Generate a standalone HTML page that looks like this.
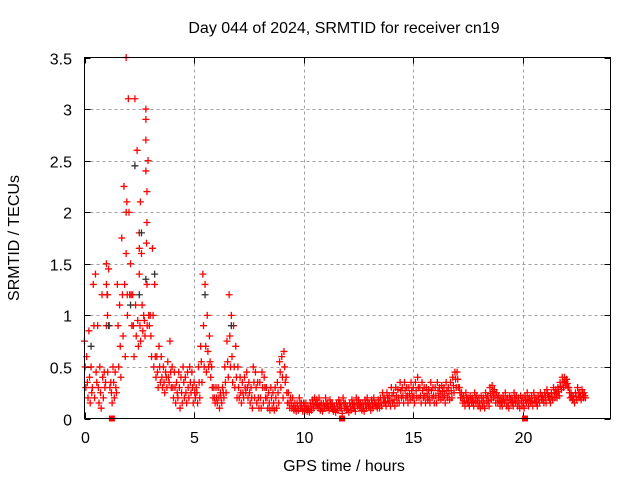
<!DOCTYPE html>
<html><head><meta charset="utf-8"><style>
body{margin:0;background:#fff}
svg text{font-family:"Liberation Sans",sans-serif;font-size:16px;fill:#000}
</style></head><body>
<svg id="c" width="640" height="480" viewBox="0 0 640 480" xmlns="http://www.w3.org/2000/svg">
<rect width="640" height="480" fill="#fff"/>
<text x="344" y="33" text-anchor="middle">Day 044 of 2024, SRMTID for receiver cn19</text>
<text x="344" y="471" text-anchor="middle">GPS time / hours</text>
<text transform="translate(19,238) rotate(-90)" text-anchor="middle">SRMTID / TECUs</text>
<g id="grid"></g><g id="ticks"></g><g id="marks"></g>
<rect x="84.5" y="57.5" width="526" height="361" fill="none" stroke="#000" stroke-width="1"/>
</svg>
<script>
const xTicks=[0,5,10,15,20];
const yTicks=[0,0.5,1,1.5,2,2.5,3,3.5];
const yTickLabels=["0","0.5","1","1.5","2","2.5","3","3.5"];
const tStart=0, tStep=0.1;
const upperVals=[0.75,0.6,0.85,0.5,1.3,1.4,0.9,0.5,1.2,0.45,
1.5,1.45,0.35,0.5,0.45,1.3,1.1,1.75,2.25,3.5,
3.1,1.5,1.2,3.1,2.6,1.65,1.6,1.0,3.0,2.5,
1.0,1.65,1.3,0.6,0.7,0.6,0.5,0.45,0.55,0.75,
0.5,0.45,0.35,0.45,0.4,0.5,0.4,0.45,0.5,0.45,
0.35,0.3,0.5,0.7,1.4,1.3,1.0,0.8,0.5,0.3,
0.3,0.3,0.25,0.3,0.5,0.75,1.2,1.0,0.9,0.7,
0.5,0.4,0.35,0.4,0.45,0.35,0.3,0.5,0.45,0.35,
0.35,0.45,0.4,0.3,0.25,0.3,0.25,0.3,0.35,0.55,
0.6,0.65,0.4,0.25,0.2,0.2,0.15,0.15,0.2,0.15,
0.15,0.15,0.12,0.15,0.18,0.2,0.18,0.2,0.15,0.15,
0.2,0.15,0.18,0.15,0.12,0.15,0.18,0.15,0.2,0.15,
0.12,0.15,0.18,0.15,0.2,0.18,0.15,0.15,0.18,0.2,
0.15,0.18,0.2,0.15,0.18,0.2,0.25,0.2,0.25,0.22,
0.3,0.25,0.3,0.28,0.35,0.3,0.35,0.3,0.3,0.35,
0.3,0.35,0.4,0.3,0.35,0.3,0.3,0.28,0.35,0.3,
0.3,0.35,0.3,0.32,0.3,0.35,0.3,0.35,0.4,0.45,
0.45,0.3,0.25,0.22,0.25,0.2,0.22,0.2,0.25,0.22,
0.2,0.22,0.2,0.25,0.22,0.3,0.32,0.28,0.25,0.22,
0.2,0.22,0.25,0.2,0.22,0.2,0.25,0.22,0.2,0.22,
0.2,0.22,0.25,0.2,0.22,0.25,0.2,0.22,0.25,0.22,
0.25,0.28,0.22,0.25,0.3,0.28,0.3,0.35,0.4,0.4,
0.38,0.3,0.25,0.22,0.25,0.3,0.25,0.28,0.25];
const midVals=[0.5,0.35,0.4,0.25,0.9,0.45,0.3,0.25,0.4,0.3,
1.2,0.9,0.25,0.35,0.3,0.9,0.7,1.2,1.3,2.1,
2.0,1.2,0.9,1.1,0.95,0.9,1.1,0.95,1.7,1.0,
0.8,1.0,0.6,0.45,0.5,0.4,0.35,0.4,0.4,0.45,
0.3,0.3,0.25,0.3,0.25,0.35,0.25,0.3,0.35,0.3,
0.25,0.25,0.35,0.55,0.9,0.7,0.65,0.55,0.3,0.2,
0.2,0.2,0.2,0.25,0.35,0.55,0.8,0.6,0.5,0.4,
0.3,0.25,0.25,0.3,0.3,0.25,0.2,0.35,0.3,0.2,
0.2,0.3,0.3,0.2,0.15,0.2,0.15,0.2,0.25,0.45,
0.4,0.5,0.25,0.15,0.15,0.12,0.1,0.12,0.15,0.1,
0.12,0.1,0.09,0.12,0.14,0.15,0.14,0.13,0.1,0.12,
0.14,0.12,0.14,0.1,0.09,0.12,0.14,0.1,0.15,0.12,
0.09,0.12,0.14,0.1,0.15,0.14,0.12,0.1,0.14,0.15,
0.12,0.14,0.15,0.12,0.14,0.15,0.2,0.16,0.2,0.17,
0.22,0.18,0.22,0.2,0.27,0.22,0.27,0.22,0.24,0.27,
0.22,0.27,0.3,0.22,0.27,0.22,0.24,0.2,0.27,0.22,
0.22,0.27,0.24,0.26,0.22,0.27,0.24,0.27,0.32,0.38,
0.38,0.25,0.2,0.17,0.2,0.16,0.18,0.16,0.2,0.17,
0.15,0.17,0.15,0.2,0.17,0.24,0.26,0.22,0.2,0.17,
0.16,0.18,0.18,0.15,0.18,0.16,0.2,0.17,0.15,0.17,
0.15,0.18,0.18,0.17,0.17,0.2,0.16,0.18,0.21,0.18,
0.2,0.24,0.18,0.21,0.25,0.24,0.26,0.31,0.35,0.36,
0.34,0.25,0.21,0.18,0.21,0.25,0.21,0.24,0.22];
const lowerVals=[0.3,0.2,0.15,0.3,0.2,0.35,0.15,0.1,0.2,0.35,
0.45,0.3,0.15,0.2,0.25,0.5,0.4,0.8,0.6,1.0,
1.2,0.9,0.6,0.8,0.7,0.75,0.85,0.8,0.9,0.9,
0.6,0.5,0.4,0.3,0.35,0.3,0.25,0.3,0.35,0.3,
0.2,0.15,0.2,0.1,0.15,0.2,0.15,0.2,0.25,0.15,
0.2,0.15,0.2,0.35,0.5,0.45,0.5,0.4,0.2,0.15,
0.15,0.1,0.15,0.2,0.25,0.4,0.5,0.35,0.3,0.2,
0.2,0.15,0.2,0.25,0.2,0.15,0.1,0.2,0.15,0.1,
0.1,0.15,0.2,0.1,0.08,0.1,0.08,0.1,0.15,0.3,
0.2,0.35,0.15,0.1,0.1,0.08,0.07,0.08,0.1,0.07,
0.08,0.07,0.06,0.08,0.1,0.12,0.1,0.08,0.07,0.1,
0.1,0.08,0.1,0.07,0.06,0.08,0.1,0.05,0.1,0.08,
0.06,0.08,0.1,0.07,0.12,0.1,0.08,0.07,0.1,0.12,
0.08,0.1,0.12,0.1,0.1,0.12,0.15,0.12,0.15,0.12,
0.15,0.12,0.15,0.15,0.2,0.15,0.2,0.15,0.18,0.2,
0.15,0.2,0.2,0.15,0.2,0.15,0.18,0.15,0.2,0.15,
0.15,0.2,0.18,0.2,0.15,0.2,0.18,0.2,0.25,0.3,
0.3,0.2,0.15,0.12,0.15,0.12,0.15,0.12,0.15,0.12,
0.1,0.12,0.1,0.15,0.12,0.18,0.2,0.15,0.15,0.12,
0.12,0.15,0.12,0.1,0.15,0.12,0.15,0.12,0.1,0.12,
0.1,0.15,0.12,0.15,0.12,0.15,0.12,0.15,0.18,0.15,
0.15,0.2,0.15,0.18,0.2,0.2,0.22,0.28,0.3,0.32,
0.3,0.2,0.18,0.15,0.18,0.2,0.18,0.2,0.2];
const spikeTimes=[1.9,1.9,1.95,2.8,2.8,2.8,2.85,2.85,2.85,2.5,2.5,2.55,1.0,1.05,1.05,1.0];
const spikeVals=[2.0,1.6,1.2,2.9,2.7,2.4,2.2,1.9,1.3,1.8,1.4,2.1,1.3,1.2,1.0,0.9];
const blackTimes=[0.3,1.1,2.1,2.3,2.5,2.6,2.8,3.2,5.5,6.7];
const blackVals=[0.7,0.9,1.1,2.45,1.2,1.8,1.35,1.4,1.2,0.9];
const zeroTimes=[1.25,11.75,20.1];
const zeroVals=[0,0,0];

const X0=84.5,X1=610.5,Y0=418.5,Y1=57.5;
function xs(t){return X0+(t-0)/(24-0)*(X1-X0);}
function ys(v){return Y0-(v-0)/(3.5-0)*(Y0-Y1);}
const NS='http://www.w3.org/2000/svg';
function mk(tag,attrs,parent){const e=document.createElementNS(NS,tag);for(const k in attrs)e.setAttribute(k,attrs[k]);parent.appendChild(e);return e;}
const grid=document.getElementById('grid'),ticks=document.getElementById('ticks'),marks=document.getElementById('marks');
xTicks.forEach(t=>{const x=Math.round(xs(t))+0.5;
 if(t>0){const g=mk('line',{x1:x,x2:x,y1:Y1,y2:Y0,stroke:'#a0a0a0','stroke-dasharray':'3,3'},grid);
 
 }
 mk('line',{x1:x,x2:x,y1:Y0,y2:Y0-6,stroke:'#000'},ticks);
 mk('line',{x1:x,x2:x,y1:Y1,y2:Y1+6,stroke:'#000'},ticks);
 const l=mk('text',{x:x,y:443,'text-anchor':'middle'},ticks);l.textContent=String(t);
 
 });
yTicks.forEach((v,i)=>{const y=Math.round(ys(v))+0.5;
 if(v>0&&v<3.5){const g=mk('line',{x1:X0,x2:X1,y1:y,y2:y,stroke:'#a0a0a0','stroke-dasharray':'3,3'},grid);
 
 }
 mk('line',{x1:X0,x2:X0+6,y1:y,y2:y,stroke:'#000'},ticks);
 mk('line',{x1:X1,x2:X1-6,y1:y,y2:y,stroke:'#000'},ticks);
 const l=mk('text',{x:72,y:y+6,'text-anchor':'end'},ticks);l.textContent=yTickLabels[i];
 
 });
function plus(t,v,col,name){const x=xs(t),y=ys(v);
 const p=mk('path',{d:`M${x-3.5},${y}h7M${x},${y-3.5}v7`,stroke:col,'stroke-width':1.3,fill:'none'},marks);
 
 }
upperVals.forEach((v,i)=>plus(tStart+i*tStep,v,'#f00','srmtid-point'));
midVals.forEach((v,i)=>plus(tStart+i*tStep+0.03,v,'#f00','srmtid-point'));
lowerVals.forEach((v,i)=>plus(tStart+i*tStep+0.06,v,'#f00','srmtid-point'));
spikeTimes.forEach((t,i)=>plus(t,spikeVals[i],'#f00','srmtid-point'));
blackTimes.forEach((t,i)=>plus(t,blackVals[i],'#333','srmtid-point-black'));
zeroTimes.forEach((t,i)=>{const r=mk('rect',{x:xs(t)-3,y:ys(zeroVals[i])-3,width:6,height:6,fill:'#f00'},marks);
 
 });
</script>
</body></html>
